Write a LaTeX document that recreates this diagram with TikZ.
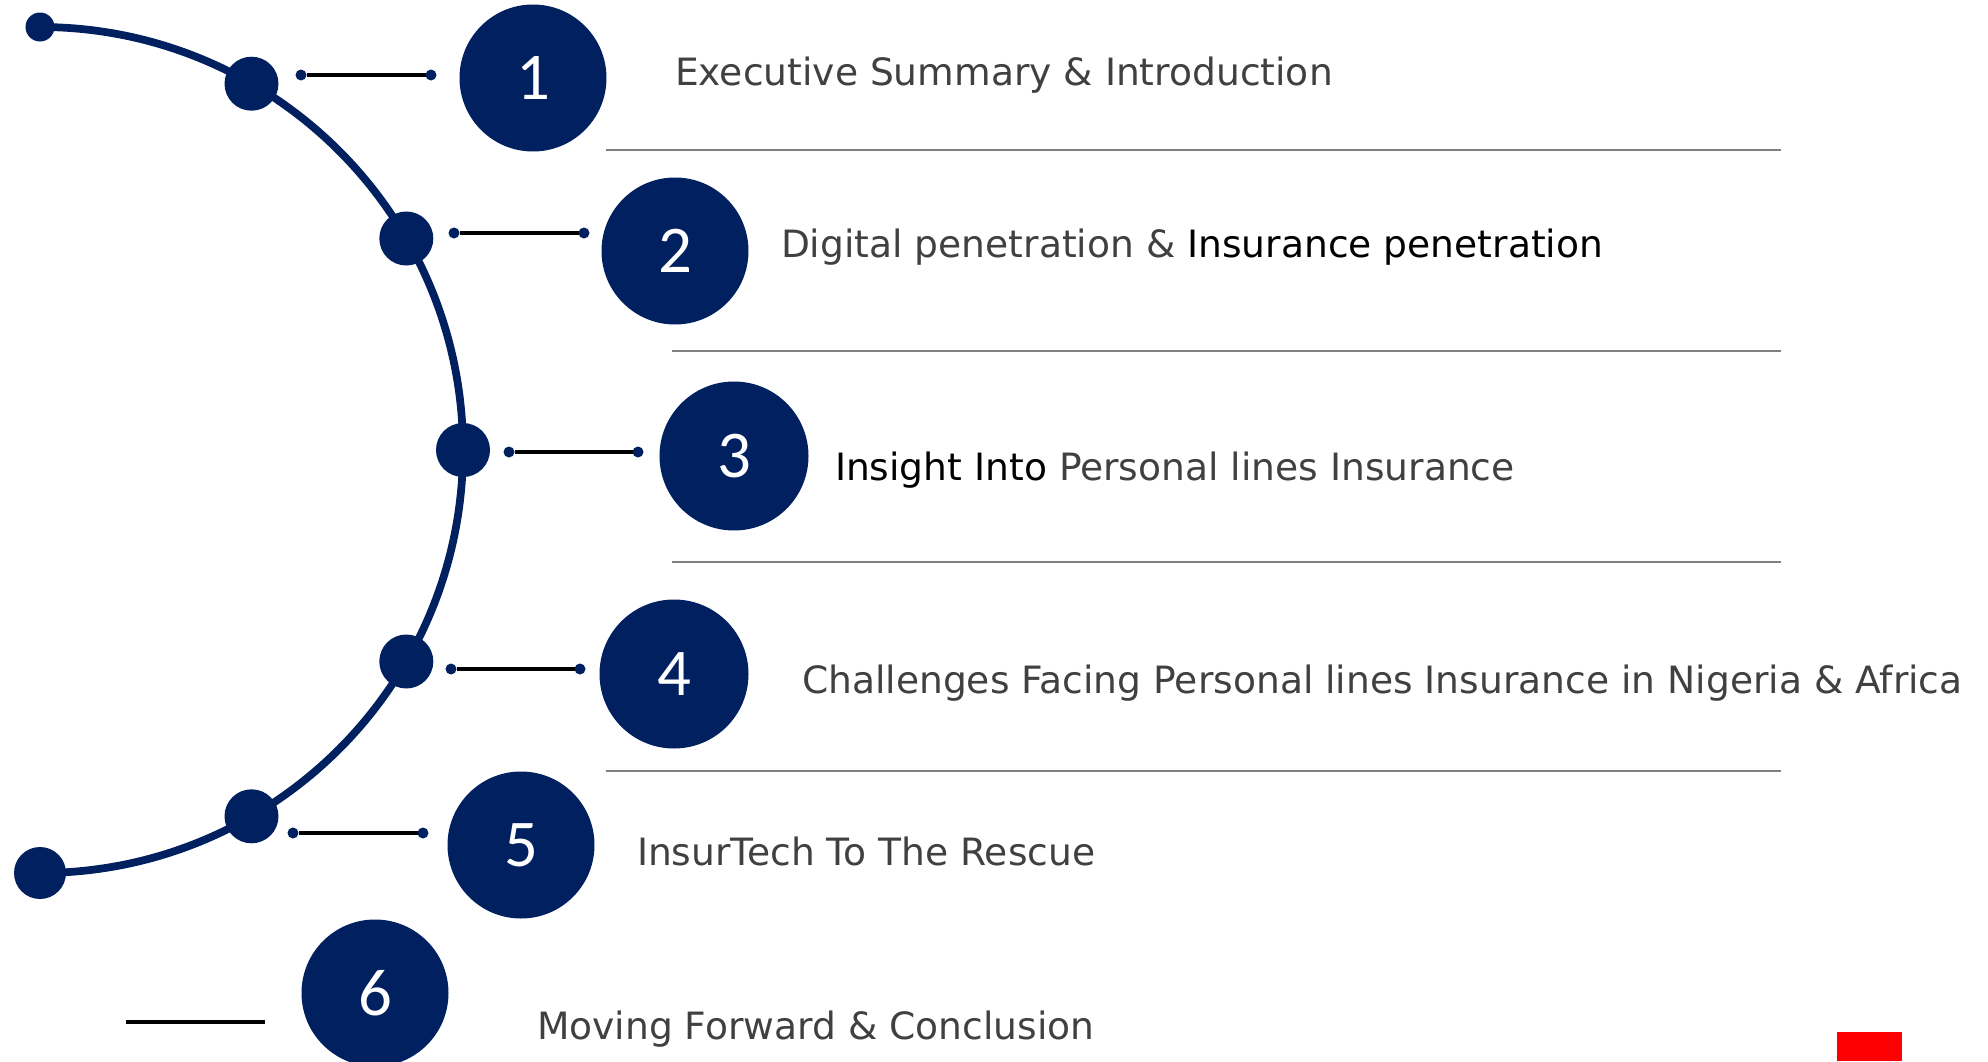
\documentclass[tikz,border=0pt]{standalone}
\usepackage{fontspec}
\setmainfont{DejaVu Sans}
\newfontfamily\numfont{Carlito}
\definecolor{navy}{RGB}{0,32,96}
\definecolor{txtgray}{RGB}{64,64,64}
\definecolor{rulegray}{RGB}{128,128,128}

\begin{document}
\begin{tikzpicture}[inner sep=0pt,outer sep=0pt,
dot/.style={circle,fill=navy,minimum size=0.54cm},
tip/.style={circle,fill=navy,minimum size=0.11cm},
numblock/.style={circle,fill=navy,minimum size=1.47cm,text=white,font=\numfont\fontsize{19}{20}\selectfont},
item/.style={anchor=base west,text=txtgray,font=\fontsize{10.7}{12}\selectfont},
bar/.style={line width=1pt,black},
sep/.style={line width=0.6pt,rulegray}]

\useasboundingbox (0,0) rectangle (19.88,10.61);

% curved track and its dots
\draw[navy,line width=2.2pt] (0.40,10.34) arc[start angle=90,end angle=-90,radius=4.23];
\draw (0.40,10.34) node[dot,minimum size=0.29cm] (d0) {};
\draw (2.515,9.773) node[dot] (d1) {};
\draw (4.063,8.225) node[dot] (d2) {};
\draw (4.63,6.11) node[dot] (d3) {};
\draw (4.063,3.995) node[dot] (d4) {};
\draw (2.515,2.447) node[dot] (d5) {};
\draw (0.40,1.88) node[dot,minimum size=0.52cm] (d6) {};

% short bars
\draw (3.01,9.86) node[tip] (a1) {};
\draw (4.31,9.86) node[tip] (b1) {};
\draw[bar] (a1) -- (b1);
\draw (4.54,8.28) node[tip] (a2) {};
\draw (5.84,8.28) node[tip] (b2) {};
\draw[bar] (a2) -- (b2);
\draw (5.09,6.09) node[tip] (a3) {};
\draw (6.38,6.09) node[tip] (b3) {};
\draw[bar] (a3) -- (b3);
\draw (4.51,3.92) node[tip] (a4) {};
\draw (5.80,3.92) node[tip] (b4) {};
\draw[bar] (a4) -- (b4);
\draw (2.93,2.28) node[tip] (a5) {};
\draw (4.23,2.28) node[tip] (b5) {};
\draw[bar] (a5) -- (b5);
\draw[line width=1.4pt] (1.26,0.39) -- (2.65,0.39);

% numbered circles
\draw (5.33,9.83) node[numblock] (n1) {1};
\draw (6.75,8.10) node[numblock] (n2) {2};
\draw (7.34,6.05) node[numblock,minimum size=1.49cm] (n3) {3};
\draw (6.74,3.87) node[numblock,minimum size=1.49cm] (n4) {4};
\draw (5.21,2.16) node[numblock] (n5) {5};
\draw (3.75,0.68) node[numblock] (n6) {6};

% items
\draw (6.75,9.76) node[item] (t1) {Executive Summary \& Introduction};
\draw (7.81,8.04) node[item] (t2) {Digital penetration \& \textcolor{black}{Insurance penetration}};
\draw (8.35,5.81) node[item] (t3) {\textcolor{black}{Insight Into} Personal lines Insurance};
\draw (8.02,3.68) node[item] (t4) {Challenges Facing Personal lines Insurance in Nigeria \& Africa};
\draw (6.37,1.96) node[item] (t5) {InsurTech To The Rescue};
\draw (5.37,0.22) node[item] (t6) {Moving Forward \& Conclusion};

% rules between items
\draw[sep] (6.06,9.11) -- (17.81,9.11);
\draw[sep] (6.72,7.10) -- (17.81,7.10);
\draw[sep] (6.72,4.99) -- (17.81,4.99);
\draw[sep] (6.06,2.90) -- (17.81,2.90);

\fill[red] (18.37,0) rectangle (19.02,0.29);
\end{tikzpicture}
\end{document}
